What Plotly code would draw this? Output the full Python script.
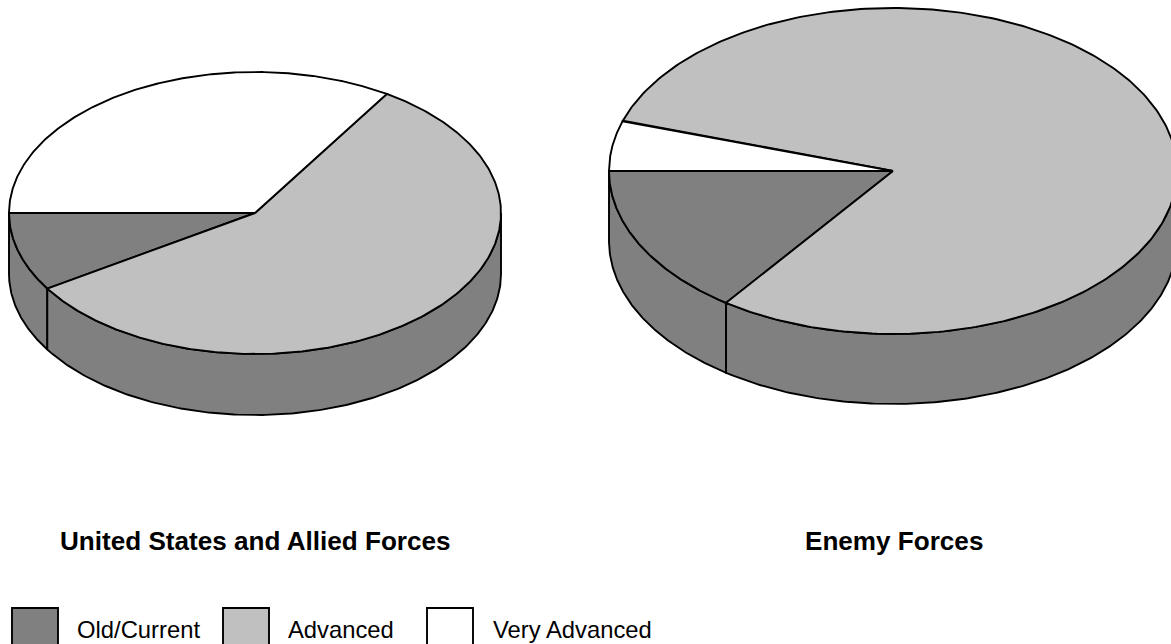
import numpy as np
import plotly.graph_objects as go

# Technology mix of each force, percent of total
categories = ["Old/Current", "Advanced", "Very Advanced"]
allied_shares = [9, 57, 34]
enemy_shares = [15, 80, 5]
pie_titles = ["United States and Allied Forces", "Enemy Forces"]

TOP_COLORS = ["#C0C0C0" if c == "Advanced" else "#FFFFFF" if c == "Very Advanced" else "#808080" for c in categories]
WALL_COLOR = "#808080"
EDGE = dict(color="#000000", width=1.9)
FONT = "Liberation Sans, Arial, sans-serif"

# Tilted-disc geometry in page pixels: centre x, centre y, x radius, y radius, wall depth
ALLIED_DISC = (255, 213, 246, 141, 61)
ENEMY_DISC = (893, 171, 284, 163, 70)

fig = go.Figure()


def add_polygon(xs, ys, fill):
    fig.add_trace(go.Scatter(x=xs, y=ys, mode="lines", fill="toself", fillcolor=fill,
                             line=EDGE, hoverinfo="skip", showlegend=False))


def add_slices(shares, disc):
    cx, cy, rx, ry, depth = disc
    # Slices run from the left-most point of the disc towards the viewer
    bounds = np.pi - np.cumsum([0] + shares) * 2 * np.pi / 100

    # Front wall first, only the part of each slice that faces the viewer
    for hi, lo in zip(bounds[:-1], bounds[1:]):
        a, b = max(lo, 0.0), min(hi, np.pi)
        if a >= b:
            continue
        t = np.linspace(b, a, 200)
        x = cx + rx * np.cos(t)
        y = cy + ry * np.sin(t)
        add_polygon(np.r_[x, x[::-1], x[0]], np.r_[y, y[::-1] + depth, y[0]], WALL_COLOR)

    # Top face of the disc
    for hi, lo, color in zip(bounds[:-1], bounds[1:], TOP_COLORS):
        t = np.linspace(hi, lo, 300)
        add_polygon(np.r_[cx, cx + rx * np.cos(t), cx], np.r_[cy, cy + ry * np.sin(t), cy], color)


add_slices(allied_shares, ALLIED_DISC)
add_slices(enemy_shares, ENEMY_DISC)

# Legend swatches and captions
swatch_x = [35, 246, 450]
caption_x = [75, 286, 491]
for name, color, sx, tx in zip(categories, TOP_COLORS, swatch_x, caption_x):
    fig.add_trace(go.Scatter(x=[sx], y=[631], mode="markers", hoverinfo="skip", showlegend=False,
                             marker=dict(symbol="square", size=46, color=color, line=EDGE)))
    fig.add_annotation(x=tx, y=629, text=name, showarrow=False, xanchor="left", yanchor="middle",
                       font=dict(family=FONT, size=23.8, color="#000000"))

# Captions under the two discs
for title, tx in zip(pie_titles, [255.5, 893.5]):
    fig.add_annotation(x=tx, y=541, text=f"<b>{title}</b>", showarrow=False, xanchor="center",
                       yanchor="middle", font=dict(family=FONT, size=26.1, color="#000000"))

fig.update_xaxes(range=[0, 1171], visible=False, fixedrange=True)
fig.update_yaxes(range=[644, 0], visible=False, fixedrange=True)
fig.update_layout(width=1171, height=644, margin=dict(l=0, r=0, t=0, b=0),
                  paper_bgcolor="#FFFFFF", plot_bgcolor="#FFFFFF", showlegend=False)

fig.write_html("out.html", config=dict(displayModeBar=False))
